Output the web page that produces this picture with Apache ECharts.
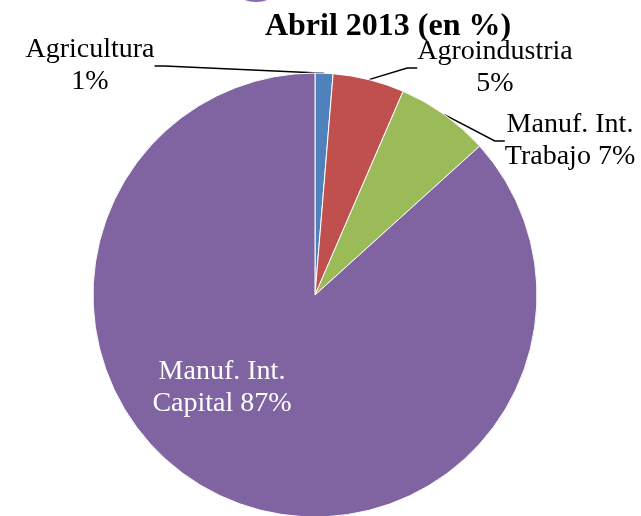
<!DOCTYPE html>
<html>
<head>
<meta charset="utf-8">
<script src="https://cdn.jsdelivr.net/npm/echarts@6/dist/echarts.min.js"></script>
<style>
html,body{margin:0;padding:0;background:#fff;}
#chart{width:641px;height:516px;}
</style>
</head>
<body>
<div id="chart"></div>
<script>
var categories = ['Agricultura', 'Agroindustria', 'Manuf. Int. Trabajo', 'Manuf. Int. Capital'];
var values = [1.3, 5.2, 6.8, 86.7];
var percentLabels = ['1%', '5%', '7%', '87%'];
var colors = ['#4F81BD', '#C0504D', '#9BBB59', '#8064A2'];
var titleText = 'Abril 2013 (en %)';

var labelPos = [
  {x: 90, y: 66},
  {x: 495, y: 68},
  {x: 570, y: 141},
  {x: 222, y: 388}
];

function labelText(i) {
  var n = categories[i];
  if (n.indexOf('Manuf. Int. ') === 0) {
    return 'Manuf. Int.\n' + n.substring(12) + ' ' + percentLabels[i];
  }
  return n + '\n' + percentLabels[i];
}

var seriesData = categories.map(function (c, i) {
  var item = {name: c, value: values[i], itemStyle: {color: colors[i]}};
  if (i === 3) {
    item.label = {color: '#ffffff'};
    item.labelLine = {show: false};
  }
  return item;
});

var chart = echarts.init(document.getElementById('chart'));
chart.setOption({
  animation: false,
  backgroundColor: '#ffffff',
  title: {
    text: titleText,
    left: 383,
    top: 6,
    textAlign: 'center',
    textStyle: {fontFamily: 'Liberation Serif', fontWeight: 'bold', fontSize: 32, color: '#000'}
  },
  graphic: [{
    type: 'ellipse',
    shape: {cx: 256, cy: -7, rx: 18, ry: 9},
    style: {fill: '#8a6bb0'},
    silent: true
  }],
  series: [{
    type: 'pie',
    center: [315, 295],
    radius: 222,
    startAngle: 90,
    clockwise: true,
    avoidLabelOverlap: false,
    itemStyle: {borderColor: '#ffffff', borderWidth: 1},
    label: {
      show: true,
      position: 'outside',
      formatter: function (p) { return labelText(p.dataIndex); },
      fontFamily: 'Liberation Serif',
      fontSize: 28,
      lineHeight: 32,
      color: '#000',
      align: 'center'
    },
    labelLine: {
      show: true,
      length: 15,
      length2: 10,
      lineStyle: {color: '#000', width: 1.5}
    },
    labelLayout: function (p) {
      var pos = labelPos[p.dataIndex];
      return {x: pos.x, y: pos.y, align: 'center', verticalAlign: 'middle', hideOverlap: false, moveOverlap: false};
    },
    data: seriesData
  }]
});
</script>
</body>
</html>
